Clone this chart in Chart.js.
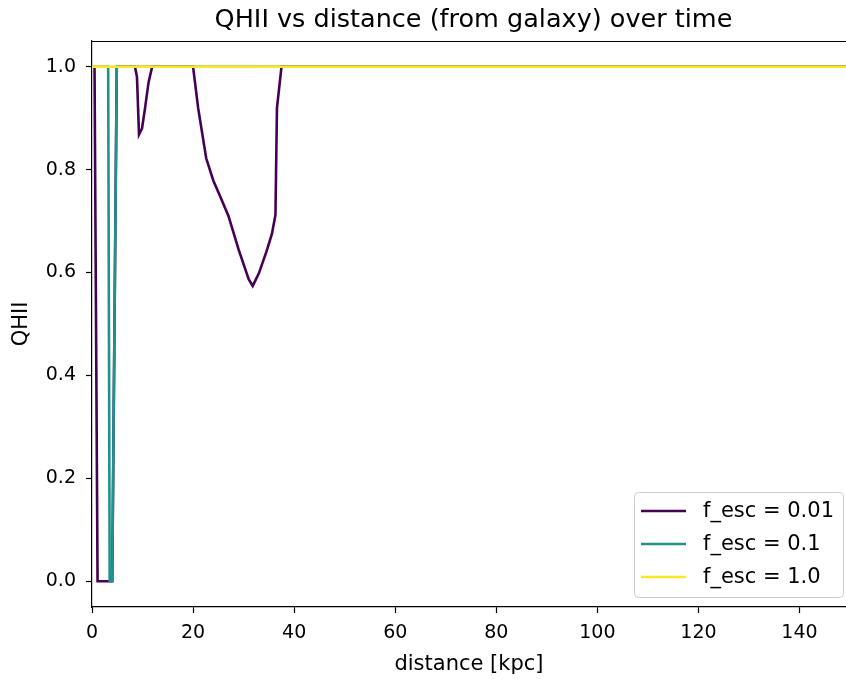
<!DOCTYPE html>
<html>
<head>
<meta charset="utf-8">
<script src="https://cdn.jsdelivr.net/npm/chart.js@4/dist/chart.umd.min.js"></script>
<style>
  html, body { margin: 0; padding: 0; background: #fff; }
  #wrap { width: 846px; height: 679px; }
</style>
</head>
<body>
<div id="wrap"><canvas id="qhii"></canvas></div>
<script>
// QHII vs distance
const labels = ['f_esc = 0.01', 'f_esc = 0.1', 'f_esc = 1.0'];
const colors = ['#440154', '#21918c', '#fde725'];

const lowX = [0.5, 1.1, 4.0, 4.9, 8.5, 8.9, 9.3, 9.9, 10.5, 11.2, 11.9, 20, 21, 22.6, 24, 25.5, 27, 29, 31, 31.8, 33, 34.5, 35.6, 36.3, 36.6, 37.5, 150];
const lowY = [1.0, 0.0, 0.0, 1.0, 1.0, 0.98, 0.868, 0.88, 0.92, 0.97, 1.0, 1.0, 0.92, 0.822, 0.779, 0.745, 0.71, 0.645, 0.587, 0.574, 0.598, 0.64, 0.675, 0.712, 0.92, 1.0, 1.0];

const midX = [0, 3.2, 3.5, 4.0, 4.9, 150];
const midY = [1.0, 1.0, 0.0, 0.0, 1.0, 1.0];

const highX = [0, 150];
const highY = [1.0, 1.0];

const xTicks = [0, 20, 40, 60, 80, 100, 120, 140];
const yTicks = [0.0, 0.2, 0.4, 0.6, 0.8, 1.0];

function toPoints(xs, ys) {
  return xs.map((x, i) => ({ x: x, y: ys[i] }));
}

const FONT = 'DejaVu Sans';

// title centred over the axes (which run past the right edge of the picture)
const titlePlugin = {
  id: 'mplTitle',
  afterDraw(chart) {
    const ctx = chart.ctx;
    const a = chart.chartArea;
    ctx.save();
    ctx.fillStyle = '#000';
    ctx.font = '25.5px ' + FONT;
    ctx.textAlign = 'center';
    ctx.textBaseline = 'alphabetic';
    ctx.fillText('QHII vs distance (from galaxy) over time', a.left + (a.right - a.left + 9) / 2, a.top - 14);
    // top spine
    ctx.strokeStyle = '#000';
    ctx.lineWidth = 1.2;
    ctx.beginPath();
    ctx.moveTo(a.left, a.top + 0.5);
    ctx.lineTo(a.right, a.top + 0.5);
    ctx.stroke();
    ctx.restore();
  }
};

// legend box in the lower right, like matplotlib's
const legendPlugin = {
  id: 'mplLegend',
  afterDraw(chart) {
    const ctx = chart.ctx;
    const a = chart.chartArea;
    const w = 209, h = 105;
    const x0 = a.right - w - 3, y0 = a.bottom - h - 10;
    ctx.save();
    ctx.fillStyle = 'rgba(255,255,255,0.8)';
    ctx.strokeStyle = '#cccccc';
    ctx.lineWidth = 1;
    ctx.beginPath();
    ctx.roundRect(x0 + 0.5, y0 + 0.5, w, h, 4);
    ctx.fill();
    ctx.stroke();
    ctx.font = '21px ' + FONT;
    ctx.textBaseline = 'middle';
    ctx.textAlign = 'left';
    chart.data.datasets.forEach((ds, i) => {
      const yy = y0 + 19 + i * 33;
      ctx.strokeStyle = ds.borderColor;
      ctx.lineWidth = 2.5;
      ctx.beginPath();
      ctx.moveTo(x0 + 7, yy);
      ctx.lineTo(x0 + 52, yy);
      ctx.stroke();
      ctx.fillStyle = '#000';
      ctx.fillText(ds.label, x0 + 69, yy + 1);
    });
    ctx.restore();
  }
};

new Chart(document.getElementById('qhii'), {
  type: 'line',
  data: {
    datasets: [
      { label: labels[0], data: toPoints(lowX, lowY), borderColor: colors[0], order: 2 },
      { label: labels[1], data: toPoints(midX, midY), borderColor: colors[1], order: 1 },
      { label: labels[2], data: toPoints(highX, highY), borderColor: colors[2], order: 0 }
    ]
  },
  options: {
    responsive: true,
    maintainAspectRatio: false,
    animation: false,
    layout: { padding: { top: 41, right: 0, left: 0, bottom: 0 } },
    elements: {
      line: { borderWidth: 2.6, tension: 0, fill: false },
      point: { radius: 0 }
    },
    plugins: {
      legend: { display: false },
      title: { display: false },
      tooltip: { enabled: false }
    },
    scales: {
      x: {
        type: 'linear',
        min: 0,
        max: 149.2,
        afterBuildTicks: s => { s.ticks = xTicks.map(v => ({ value: v })); },
        afterFit: s => { s.height = 72; },
        ticks: {
          color: '#000',
          font: { family: FONT, size: 19 },
          padding: 9,
          maxRotation: 0,
          callback: v => String(v)
        },
        grid: { drawOnChartArea: false, tickLength: 6, color: '#000', tickWidth: 1.2 },
        border: { display: true, color: '#000', width: 1.2 },
        title: {
          display: true,
          text: 'distance [kpc]',
          color: '#000',
          font: { family: FONT, size: 21 },
          padding: { top: 0, bottom: 2 }
        }
      },
      y: {
        type: 'linear',
        min: -0.05,
        max: 1.05,
        afterBuildTicks: s => { s.ticks = yTicks.map(v => ({ value: v })); },
        afterFit: s => { s.width = 92; },
        ticks: {
          color: '#000',
          font: { family: FONT, size: 19 },
          padding: 10,
          callback: v => v.toFixed(1)
        },
        grid: { drawOnChartArea: false, tickLength: 6, color: '#000', tickWidth: 1.2 },
        border: { display: true, color: '#000', width: 1.2 },
        title: {
          display: true,
          text: 'QHII',
          color: '#000',
          font: { family: FONT, size: 21 },
          padding: { top: 9, bottom: 0 }
        }
      }
    }
  },
  plugins: [titlePlugin, legendPlugin]
});
</script>
</body>
</html>
